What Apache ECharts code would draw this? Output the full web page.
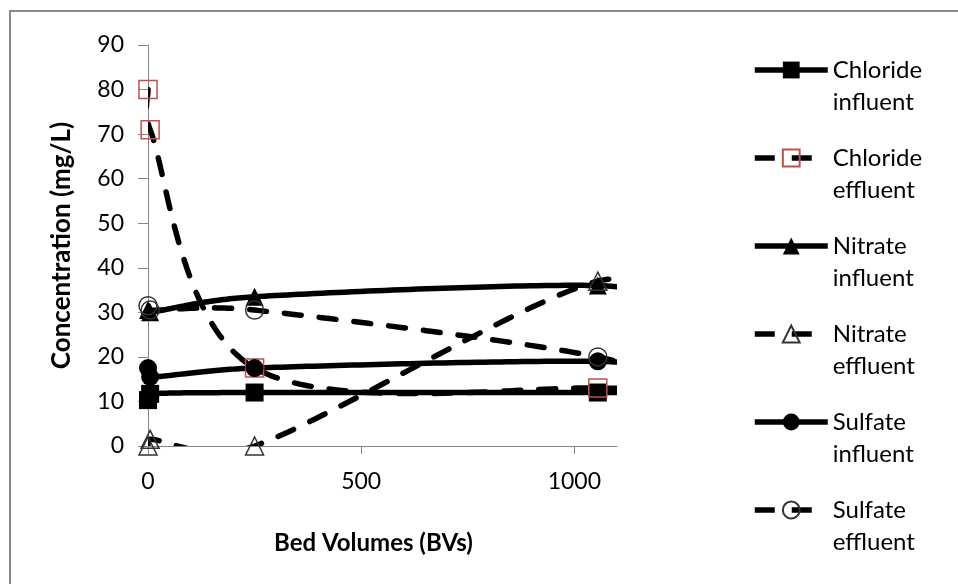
<!DOCTYPE html>
<html>
<head>
<meta charset="utf-8">
<script src="https://cdn.jsdelivr.net/npm/echarts@6/dist/echarts.min.js"></script>
<style>html,body{margin:0;padding:0;background:#fff}#c{width:958px;height:584px}</style>
</head>
<body>
<div id="c"></div>
<script>
// Data (Bed Volumes on x); last column lies beyond the axis end and is clipped
const bedVolumes = [0, 5, 250, 1055, 1300];
const chlorideInfluent = [10.3, 11.7, 12, 12, 12];
const chlorideEffluent = [80, 71, 17.5, 13, 15];
const nitrateInfluent = [30.5, 30, 33.5, 36, 31];
const nitrateEffluent = [0, 1.5, 0, 37, 26];
const sulfateInfluent = [17.5, 15.5, 17.5, 19, 16];
const sulfateEffluent = [31.5, 30.5, 30.5, 20, 10];
const seriesNames = ['Chloride influent', 'Chloride effluent', 'Nitrate influent', 'Nitrate effluent', 'Sulfate influent', 'Sulfate effluent'];
const xTicks = [0, 500, 1000];
const yTicks = [0, 10, 20, 30, 40, 50, 60, 70, 80, 90];

const FONT = 'Lato';
const LW = 5.5;
const DASH = [17, 18];

function pairs(ys) { return bedVolumes.map((x, i) => [x, ys[i]]); }
function dist(a, b) { return Math.hypot(a[0] - b[0], a[1] - b[1]); }
// Excel-like smoothing (Bezier through the points, tension 1/6, capped)
function smoothPath(pts) {
  const out = [pts[0]];
  const n = pts.length;
  for (let i = 0; i < n - 1; i++) {
    const p0 = pts[i - 1] || pts[i], p1 = pts[i], p2 = pts[i + 1], p3 = pts[i + 2] || pts[i + 1];
    const d12 = dist(p1, p2), d02 = dist(p0, p2), d13 = dist(p1, p3);
    let f1 = 1 / 6, f2 = 1 / 6;
    if (d02 > 0 && d02 / 6 > d12 / 2) f1 = d12 / 2 / d02;
    if (d13 > 0 && d13 / 6 > d12 / 2) f2 = d12 / 2 / d13;
    const c1 = [p1[0] + (p2[0] - p0[0]) * f1, p1[1] + (p2[1] - p0[1]) * f1];
    const c2 = [p2[0] - (p3[0] - p1[0]) * f2, p2[1] - (p3[1] - p1[1]) * f2];
    const N = 48;
    for (let k = 1; k <= N; k++) {
      const t = k / N, u = 1 - t;
      const a = u * u * u, b = 3 * u * u * t, c = 3 * u * t * t, d = t * t * t;
      out.push([a * p1[0] + b * c1[0] + c * c2[0] + d * p2[0], a * p1[1] + b * c1[1] + c * c2[1] + d * p2[1]]);
    }
  }
  return out;
}
function curve(name, ys, dashed) {
  return {
    name: name + ' curve', type: 'custom', coordinateSystem: 'cartesian2d', clip: true,
    data: [[0, 0]], encode: { x: 0, y: 1 }, silent: true,
    renderItem: function (params, api) {
      const pts = bedVolumes.map((x, i) => api.coord([x, ys[i]]));
      return {
        type: 'polyline', silent: true,
        shape: { points: smoothPath(pts) },
        style: { stroke: '#000', lineWidth: LW, fill: null, lineDash: dashed ? DASH : null, lineCap: 'round', lineJoin: 'round' }
      };
    }
  };
}
function marks(name, ys, symbol, dashed, fill, border, bw) {
  return {
    name: name, type: 'line', data: pairs(ys),
    symbol: symbol, symbolSize: 18, showSymbol: true, clip: true,
    lineStyle: { color: '#000', width: LW, type: dashed ? DASH : 'solid', cap: 'round', opacity: 0 },
    itemStyle: { color: fill, borderColor: border, borderWidth: bw },
    emphasis: { disabled: true }, silent: true
  };
}
const defs = [
  [chlorideInfluent, 'rect', false, '#000', '#000', 0],
  [chlorideEffluent, 'rect', true, 'rgba(255,255,255,0)', '#C0504D', 1.5],
  [nitrateInfluent, 'triangle', false, '#000', '#000', 0],
  [nitrateEffluent, 'triangle', true, 'rgba(255,255,255,0)', '#333', 1.5],
  [sulfateInfluent, 'circle', false, '#000', '#000', 0],
  [sulfateEffluent, 'circle', true, 'rgba(255,255,255,0)', '#333', 1.5]
];
const series = [];
defs.forEach((d, i) => {
  series.push(curve(seriesNames[i], d[0], d[2]));
  series.push(marks(seriesNames[i], d[0], d[1], d[2], d[3], d[4], d[5]));
});
const legendData = seriesNames.map((n, i) => ({
  name: n,
  lineStyle: defs[i][2] ? { type: [20, 17], cap: 'butt', width: LW, opacity: 1, color: '#000' } : { type: 'solid', cap: 'butt', width: LW, opacity: 1, color: '#000' }
}));

const chart = echarts.init(document.getElementById('c'), null, { renderer: 'canvas' });
chart.setOption({
  animation: false,
  backgroundColor: '#fff',
  textStyle: { fontFamily: FONT },
  graphic: [{ type: 'rect', shape: { x: 10, y: 11, width: 1000, height: 1000 }, style: { fill: 'none', stroke: '#8a8a8a', lineWidth: 2 }, z: -1 }],
  grid: { left: 148, right: 341, top: 45, bottom: 138, containLabel: false, outerBoundsMode: 'none' },
  legend: {
    orient: 'vertical', left: 747, top: 17, itemGap: -8,
    itemWidth: 73, itemHeight: 21,
    data: legendData,
    lineStyle: { opacity: 1, width: LW, color: '#000' },
    formatter: function (n) { const p = n.split(' '); return '\n' + p[0] + '\n' + p[1]; },
    textStyle: { fontFamily: FONT, fontSize: 24, lineHeight: 32, color: '#000' },
    selectedMode: false
  },
  xAxis: {
    type: 'value', min: 0, max: 1100, interval: 500,
    name: 'Bed Volumes (BVs)', nameLocation: 'middle', nameGap: 85,
    nameTextStyle: { fontFamily: FONT, fontSize: 24, fontWeight: 'bold', color: '#000', padding: [0, 18, 0, 0] },
    axisLine: { show: true, onZero: false, lineStyle: { color: '#868686', width: 1 } },
    axisTick: { show: true, length: 8, customValues: xTicks, lineStyle: { color: '#868686' } },
    axisLabel: { customValues: xTicks, margin: 24, fontFamily: FONT, fontSize: 23, color: '#000', formatter: v => String(v) },
    splitLine: { show: false }
  },
  yAxis: {
    type: 'value', min: 0, max: 90, interval: 10,
    name: 'Concentration (mg/L)', nameLocation: 'middle', nameGap: 73, nameRotate: 90,
    nameTextStyle: { fontFamily: FONT, fontSize: 26, fontWeight: 'bold', color: '#000' },
    axisLine: { show: true, lineStyle: { color: '#868686', width: 1 } },
    axisTick: { show: true, length: 10, customValues: yTicks, lineStyle: { color: '#868686' } },
    axisLabel: { customValues: yTicks, margin: 24, fontFamily: FONT, fontSize: 23, color: '#000', formatter: v => String(v) },
    splitLine: { show: false }
  },
  series: series
});
</script>
</body>
</html>
